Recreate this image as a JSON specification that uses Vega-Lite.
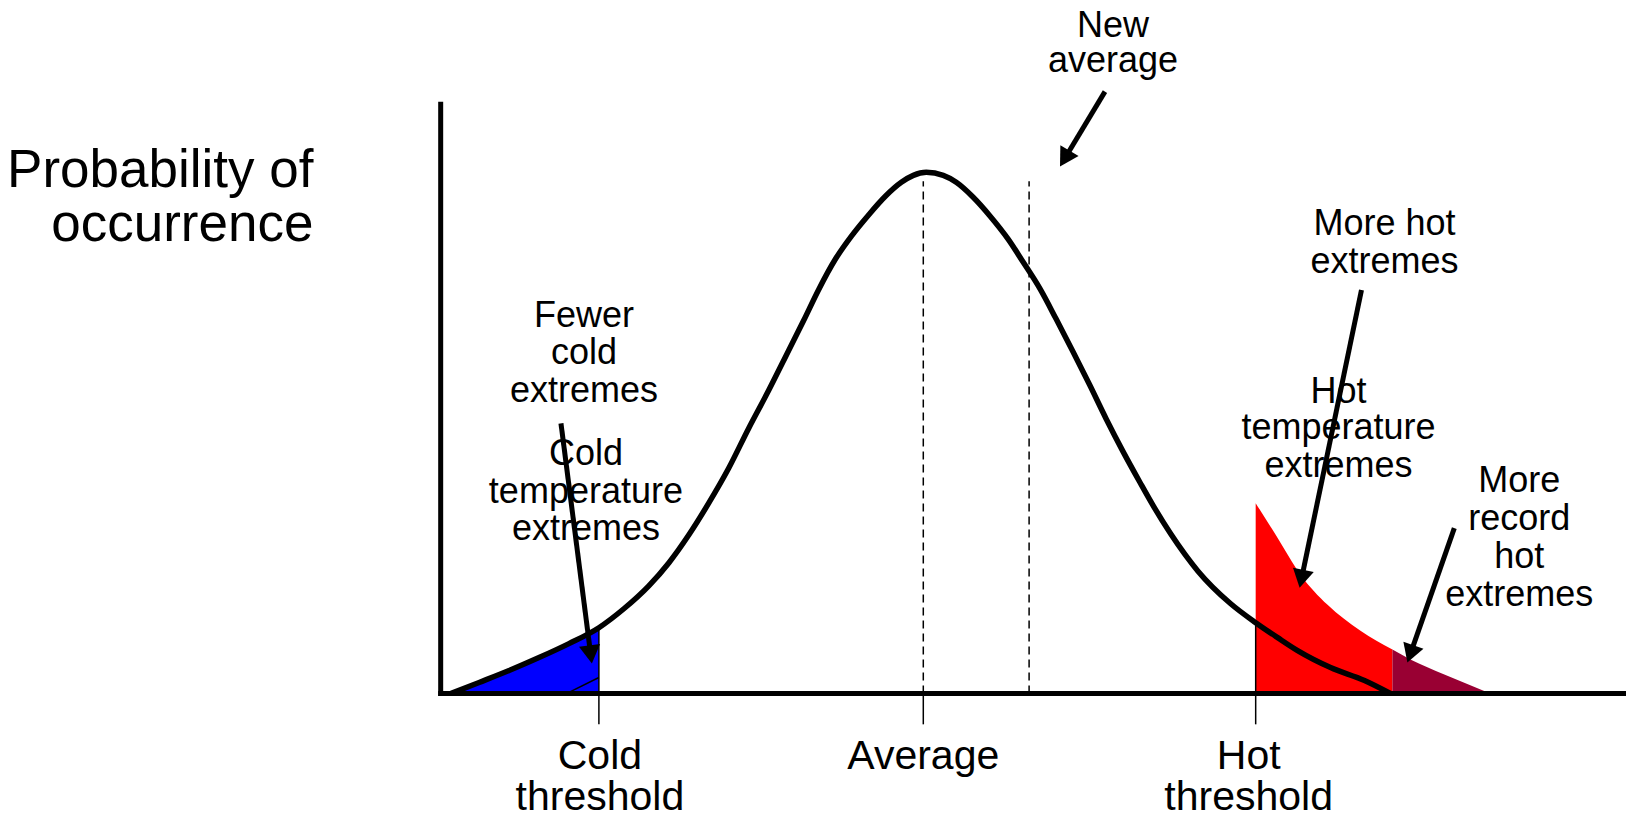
{
  "$schema": "https://vega.github.io/schema/vega-lite/v6.json",
  "width": 1629,
  "height": 818,
  "padding": 0,
  "autosize": {"type": "fit", "contains": "padding"},
  "background": "white",
  "config": {"view": {"stroke": null}},
  "datasets": {
    "curve": [
      {"x": -47.3, "y": 0}, {"x": -44.5, "y": 2.2}, {"x": -41.5, "y": 4.6}, {"x": -38.5, "y": 7.2},
      {"x": -35.5, "y": 10.0}, {"x": -32.5, "y": 13.2}, {"x": -30.0, "y": 17.0}, {"x": -27.5, "y": 21.6},
      {"x": -25.5, "y": 26.2}, {"x": -23.5, "y": 31.8}, {"x": -21.5, "y": 38.2}, {"x": -19.5, "y": 45.2},
      {"x": -17.5, "y": 53.2}, {"x": -15.5, "y": 60.8}, {"x": -13.5, "y": 68.8}, {"x": -12.0, "y": 74.8},
      {"x": -10.5, "y": 81.0}, {"x": -8.8, "y": 87.2}, {"x": -7.2, "y": 91.8}, {"x": -5.5, "y": 96.0},
      {"x": -3.8, "y": 99.8}, {"x": -2.2, "y": 102.6}, {"x": -1.0, "y": 104.0}, {"x": 0.3, "y": 104.6},
      {"x": 2.0, "y": 104.0}, {"x": 3.3, "y": 102.6}, {"x": 5.0, "y": 99.6}, {"x": 6.7, "y": 95.8},
      {"x": 8.5, "y": 91.2}, {"x": 10.0, "y": 86.6}, {"x": 11.7, "y": 81.2}, {"x": 13.3, "y": 75.2},
      {"x": 15.0, "y": 68.6}, {"x": 16.7, "y": 61.8}, {"x": 18.3, "y": 55.2}, {"x": 20.0, "y": 48.6},
      {"x": 21.7, "y": 42.4}, {"x": 23.0, "y": 37.8}, {"x": 24.8, "y": 32.0}, {"x": 27.5, "y": 24.6},
      {"x": 30.8, "y": 18.0}, {"x": 33.3, "y": 14.2}, {"x": 35.5, "y": 11.2}, {"x": 37.5, "y": 8.6},
      {"x": 40.8, "y": 5.2}, {"x": 44.2, "y": 2.6}, {"x": 46.8, "y": 0}
    ],
    "cold": [
      {"x": -47.3, "y": 0}, {"x": -44.5, "y": 2.2}, {"x": -41.5, "y": 4.6}, {"x": -38.5, "y": 7.2},
      {"x": -35.5, "y": 10.0}, {"x": -32.5, "y": 13.2}
    ],
    "hot": [
      {"band": "hot", "x": 33.3, "y": 38.2}, {"band": "hot", "x": 35.5, "y": 31.2},
      {"band": "hot", "x": 37.8, "y": 23.8}, {"band": "hot", "x": 40.5, "y": 17.8},
      {"band": "hot", "x": 43.8, "y": 12.6}, {"band": "hot", "x": 47.0, "y": 8.8},
      {"band": "record", "x": 47.0, "y": 8.8}, {"band": "record", "x": 48.8, "y": 6.8},
      {"band": "record", "x": 52.2, "y": 3.8}, {"band": "record", "x": 56.8, "y": 0}
    ],
    "newtail": [
      {"x": -35.7, "y": 0}, {"x": -32.5, "y": 3.2}
    ],
    "segments": [
      {"kind": "axis", "x": -48.35, "x2": -48.35, "y": -0.5, "y2": 118.8},
      {"kind": "axis", "x": -48.6, "x2": 70.4, "y": 0, "y2": 0},
      {"kind": "tick", "x": -32.5, "x2": -32.5, "y": 13.2, "y2": -6.2},
      {"kind": "tick", "x": 0, "x2": 0, "y": 0, "y2": -6.2},
      {"kind": "tick", "x": 33.3, "x2": 33.3, "y": 14.2, "y2": -6.2},
      {"kind": "dash", "x": 0, "x2": 0, "y": 0, "y2": 102.8},
      {"kind": "dash", "x": 10.6, "x2": 10.6, "y": 0, "y2": 102.8},
      {"kind": "arrow", "x": 18.2, "x2": 14.17, "y": 120.8, "y2": 107.38},
      {"kind": "arrow", "x": -36.3, "x2": -33.32, "y": 54.2, "y2": 7.82},
      {"kind": "arrow", "x": 43.9, "x2": 37.89, "y": 81.0, "y2": 23.0},
      {"kind": "arrow", "x": 53.2, "x2": 48.8, "y": 33.2, "y2": 7.94}
    ],
    "heads": [
      {"id": 1, "x": 14.17, "y": 107.38},
      {"id": 2, "x": -33.32, "y": 7.82},
      {"id": 3, "x": 37.89, "y": 23.0},
      {"id": 4, "x": 48.8, "y": 7.94}
    ],
    "labels": [
      {"group": "title", "text": "Probability of", "x": -61.1, "y": 101.6},
      {"group": "title", "text": "occurrence", "x": -61.1, "y": 90.8},
      {"group": "bottom", "text": "Cold", "x": -32.4, "y": -15.2},
      {"group": "bottom", "text": "threshold", "x": -32.4, "y": -23.4},
      {"group": "bottom", "text": "Average", "x": 0, "y": -15.2},
      {"group": "bottom", "text": "Hot", "x": 32.6, "y": -15.2},
      {"group": "bottom", "text": "threshold", "x": 32.6, "y": -23.4},
      {"group": "note", "text": "New", "x": 19.0, "y": 131.8},
      {"group": "note", "text": "average", "x": 19.0, "y": 124.8},
      {"group": "note", "text": "More hot", "x": 46.2, "y": 92.0},
      {"group": "note", "text": "extremes", "x": 46.2, "y": 84.4},
      {"group": "note", "text": "Hot", "x": 41.6, "y": 58.4},
      {"group": "note", "text": "temperature", "x": 41.6, "y": 51.0},
      {"group": "note", "text": "extremes", "x": 41.6, "y": 43.4},
      {"group": "note", "text": "More", "x": 59.7, "y": 40.4},
      {"group": "note", "text": "record", "x": 59.7, "y": 32.8},
      {"group": "note", "text": "hot", "x": 59.7, "y": 25.2},
      {"group": "note", "text": "extremes", "x": 59.7, "y": 17.6},
      {"group": "note", "text": "Fewer", "x": -34.0, "y": 73.6},
      {"group": "note", "text": "cold", "x": -34.0, "y": 66.2},
      {"group": "note", "text": "extremes", "x": -34.0, "y": 58.6},
      {"group": "note", "text": "Cold", "x": -33.8, "y": 45.8},
      {"group": "note", "text": "temperature", "x": -33.8, "y": 38.3},
      {"group": "note", "text": "extremes", "x": -33.8, "y": 30.8}
    ]
  },
  "encoding": {
    "x": {"field": "x", "type": "quantitative", "scale": {"domain": [-92.5, 70.4], "nice": false, "zero": false}, "axis": null},
    "y": {"field": "y", "type": "quantitative", "scale": {"domain": [-24.4, 139.2], "nice": false, "zero": false}, "axis": null}
  },
  "layer": [
    {
      "data": {"name": "cold"},
      "mark": {"type": "area", "color": "#0000FF", "interpolate": "monotone"},
      "encoding": {"y2": {"datum": 0}}
    },
    {
      "data": {"name": "hot"},
      "mark": {"type": "area", "interpolate": "monotone"},
      "encoding": {
        "y": {"field": "y", "type": "quantitative", "stack": null},
        "y2": {"datum": 0},
        "color": {"field": "band", "type": "nominal", "scale": {"domain": ["hot", "record"], "range": ["#FF0000", "#990033"]}, "legend": null}
      }
    },
    {
      "data": {"name": "segments"},
      "transform": [{"filter": "datum.kind === 'tick'"}],
      "mark": {"type": "rule", "color": "black", "strokeWidth": 1.5},
      "encoding": {"x2": {"field": "x2"}, "y2": {"field": "y2"}}
    },
    {
      "data": {"name": "segments"},
      "transform": [{"filter": "datum.kind === 'dash'"}],
      "mark": {"type": "rule", "color": "black", "strokeWidth": 1.5, "strokeDash": [8, 5]},
      "encoding": {"x2": {"field": "x2"}, "y2": {"field": "y2"}}
    },
    {
      "data": {"name": "newtail"},
      "mark": {"type": "line", "color": "black", "strokeWidth": 1.5},
      "encoding": {}
    },
    {
      "data": {"name": "curve"},
      "mark": {"type": "line", "color": "black", "strokeWidth": 5.5, "interpolate": "monotone"},
      "encoding": {}
    },
    {
      "data": {"name": "segments"},
      "transform": [{"filter": "datum.kind === 'axis'"}],
      "mark": {"type": "rule", "color": "black", "strokeWidth": 5},
      "encoding": {"x2": {"field": "x2"}, "y2": {"field": "y2"}}
    },
    {
      "data": {"name": "segments"},
      "transform": [{"filter": "datum.kind === 'arrow'"}],
      "mark": {"type": "rule", "color": "black", "strokeWidth": 5},
      "encoding": {"x2": {"field": "x2"}, "y2": {"field": "y2"}}
    },
    {
      "data": {"name": "heads"},
      "transform": [{"filter": "datum.id === 1"}],
      "mark": {"type": "point", "shape": "triangle-up", "filled": true, "color": "black", "opacity": 1, "size": 450, "angle": 211, "strokeWidth": 0}
    },
    {
      "data": {"name": "heads"},
      "transform": [{"filter": "datum.id === 2"}],
      "mark": {"type": "point", "shape": "triangle-up", "filled": true, "color": "black", "opacity": 1, "size": 450, "angle": 172.7, "strokeWidth": 0}
    },
    {
      "data": {"name": "heads"},
      "transform": [{"filter": "datum.id === 3"}],
      "mark": {"type": "point", "shape": "triangle-up", "filled": true, "color": "black", "opacity": 1, "size": 450, "angle": 191.7, "strokeWidth": 0}
    },
    {
      "data": {"name": "heads"},
      "transform": [{"filter": "datum.id === 4"}],
      "mark": {"type": "point", "shape": "triangle-up", "filled": true, "color": "black", "opacity": 1, "size": 450, "angle": 199.2, "strokeWidth": 0}
    },
    {
      "data": {"name": "labels"},
      "transform": [{"filter": "datum.group === 'title'"}],
      "mark": {"type": "text", "font": "Liberation Sans", "fontSize": 53, "align": "right", "baseline": "alphabetic", "color": "black"},
      "encoding": {"text": {"field": "text"}}
    },
    {
      "data": {"name": "labels"},
      "transform": [{"filter": "datum.group === 'bottom'"}],
      "mark": {"type": "text", "font": "Liberation Sans", "fontSize": 41, "align": "center", "baseline": "alphabetic", "color": "black"},
      "encoding": {"text": {"field": "text"}}
    },
    {
      "data": {"name": "labels"},
      "transform": [{"filter": "datum.group === 'note'"}],
      "mark": {"type": "text", "font": "Liberation Sans", "fontSize": 36, "align": "center", "baseline": "alphabetic", "color": "black"},
      "encoding": {"text": {"field": "text"}}
    }
  ]
}
